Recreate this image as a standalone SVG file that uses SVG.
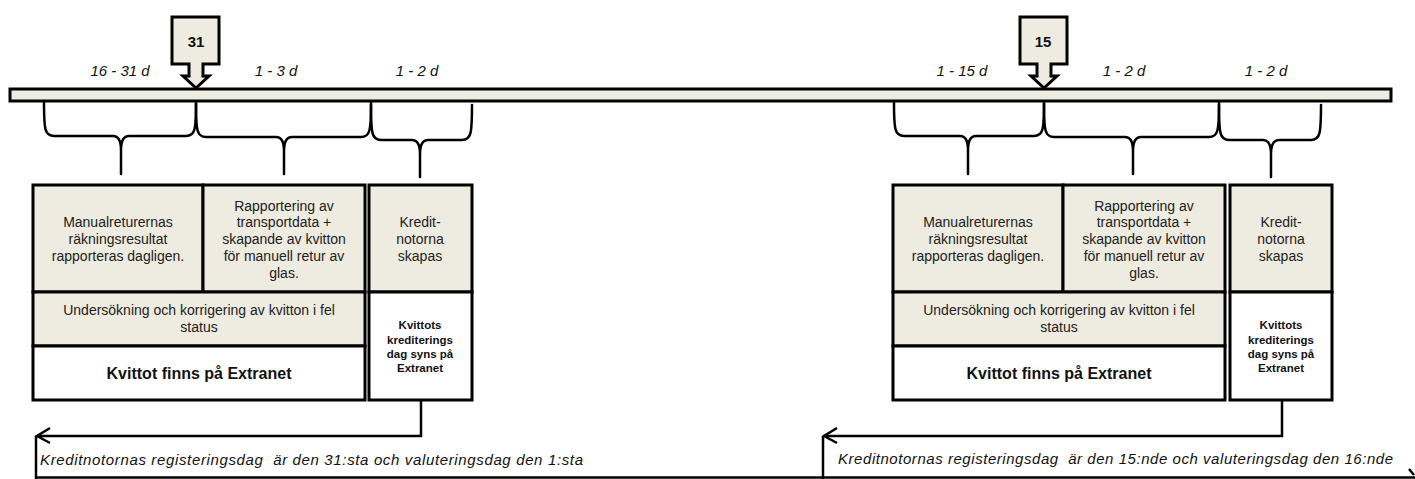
<svg xmlns="http://www.w3.org/2000/svg" width="1415" height="479" viewBox="0 0 1415 479">
<style>
.bg{fill:#ffffff}
.beige{fill:#eeebe0;stroke:#000;stroke-width:3}
.white{fill:#ffffff;stroke:#000;stroke-width:3}
.brace{fill:none;stroke:#000;stroke-width:2.5;stroke-linejoin:round;stroke-linecap:round}
.line{fill:none;stroke:#000;stroke-width:2.5}
.t{font-family:"Liberation Sans",Arial,sans-serif;font-size:14px;fill:#222;text-anchor:middle}
.tb{font-family:"Liberation Sans",Arial,sans-serif;font-weight:bold;fill:#111;text-anchor:middle}
.ti{font-family:"Liberation Sans",Arial,sans-serif;font-style:italic;font-size:15px;fill:#111;text-anchor:middle}
.tl{font-family:"Liberation Sans",Arial,sans-serif;font-style:italic;font-size:15px;fill:#111;white-space:pre}
</style>
<rect class="bg" x="0" y="0" width="1415" height="479"/>

<g id="timeline">
<rect class="beige" x="10" y="89" width="1381" height="12"/>
</g>

<g id="marker31">
<path class="beige" d="M172,17 H219 V64 H203 V76 H209 L196,88 L183,76 H189 V64 H172 Z" stroke-width="2.5"/>
<text class="tb" x="196" y="47" font-size="15">31</text>
</g>
<g id="marker15">
<path class="beige" d="M1020,17 H1067 V64 H1051 V76 H1057 L1044,88 L1031,76 H1037 V64 H1020 Z" stroke-width="2.5"/>
<text class="tb" x="1043" y="47" font-size="15">15</text>
</g>

<g id="durations">
<text class="ti" x="120" y="76">16 - 31 d</text>
<text class="ti" x="276" y="76">1 - 3 d</text>
<text class="ti" x="417" y="76">1 - 2 d</text>
<text class="ti" x="962" y="76">1 - 15 d</text>
<text class="ti" x="1124" y="76">1 - 2 d</text>
<text class="ti" x="1266" y="76">1 - 2 d</text>
</g>

<g id="braces">
<path class="brace" d="M44,103 C44,130 45,136 54,136 L113,136 Q121,136 121,150 L121,174 L121,150 Q121,136 129,136 L186,136 C195,136 196,130 196,103"/>
<path class="brace" d="M196,103 C196,131 197,137 206,137 L276,137 Q284,137 284,151 L284,174 L284,151 Q284,137 292,137 L361,137 C370,137 371,131 371,103"/>
<path class="brace" d="M371,105 C371,134 372,140 381,140 L412,140 Q420,140 420,154 L420,177 L420,154 Q420,140 428,140 L462,140 C471,140 472,134 472,105"/>
<path class="brace" d="M894,103 C894,130 895,136 904,136 L960,136 Q968,136 968,150 L968,174 L968,150 Q968,136 976,136 L1034,136 C1043,136 1044,130 1044,103"/>
<path class="brace" d="M1044,103 C1044,131 1045,137 1054,137 L1125,137 Q1133,137 1133,151 L1133,174 L1133,151 Q1133,137 1141,137 L1209,137 C1218,137 1219,131 1219,103"/>
<path class="brace" d="M1219,105 C1219,134 1220,140 1229,140 L1263,140 Q1271,140 1271,154 L1271,177 L1271,154 Q1271,140 1279,140 L1311,140 C1320,140 1321,134 1321,105"/>
</g>

<g id="left-manual">
<rect class="beige" x="33" y="185" width="170" height="107"/>
<text class="t" x="118" y="227">Manualreturernas</text>
<text class="t" x="118" y="244">räkningsresultat</text>
<text class="t" x="118" y="261">rapporteras dagligen.</text>
</g>
<g id="left-rapport">
<rect class="beige" x="203" y="185" width="162" height="107"/>
<text class="t" x="284" y="211">Rapportering av</text>
<text class="t" x="284" y="227">transportdata +</text>
<text class="t" x="284" y="244">skapande av kvitton</text>
<text class="t" x="284" y="261">för manuell retur av</text>
<text class="t" x="284" y="278">glas.</text>
</g>
<g id="left-kredit">
<rect class="beige" x="369" y="185" width="103" height="107"/>
<text class="t" x="420" y="227">Kredit-</text>
<text class="t" x="420" y="244">notorna</text>
<text class="t" x="420" y="261">skapas</text>
</g>
<g id="left-undersok">
<rect class="beige" x="33" y="292" width="332" height="54"/>
<text class="t" x="199" y="315">Undersökning och korrigering av kvitton i fel</text>
<text class="t" x="199" y="332">status</text>
</g>
<g id="left-kvittot">
<rect class="white" x="33" y="346" width="332" height="54"/>
<text class="tb" x="199" y="379" font-size="16">Kvittot finns på Extranet</text>
</g>
<g id="left-kvittots">
<rect class="white" x="369" y="292" width="103" height="108"/>
<text class="tb" x="420" y="329" font-size="11.5">Kvittots</text>
<text class="tb" x="420" y="344" font-size="11.5">krediterings</text>
<text class="tb" x="420" y="358" font-size="11.5">dag syns på</text>
<text class="tb" x="420" y="372" font-size="11.5">Extranet</text>
</g>

<g id="right-manual">
<rect class="beige" x="893" y="185" width="170" height="107"/>
<text class="t" x="978" y="227">Manualreturernas</text>
<text class="t" x="978" y="244">räkningsresultat</text>
<text class="t" x="978" y="261">rapporteras dagligen.</text>
</g>
<g id="right-rapport">
<rect class="beige" x="1063" y="185" width="162" height="107"/>
<text class="t" x="1144" y="211">Rapportering av</text>
<text class="t" x="1144" y="227">transportdata +</text>
<text class="t" x="1144" y="244">skapande av kvitton</text>
<text class="t" x="1144" y="261">för manuell retur av</text>
<text class="t" x="1144" y="278">glas.</text>
</g>
<g id="right-kredit">
<rect class="beige" x="1230" y="185" width="102" height="107"/>
<text class="t" x="1281" y="227">Kredit-</text>
<text class="t" x="1281" y="244">notorna</text>
<text class="t" x="1281" y="261">skapas</text>
</g>
<g id="right-undersok">
<rect class="beige" x="893" y="292" width="332" height="54"/>
<text class="t" x="1059" y="315">Undersökning och korrigering av kvitton i fel</text>
<text class="t" x="1059" y="332">status</text>
</g>
<g id="right-kvittot">
<rect class="white" x="893" y="346" width="332" height="54"/>
<text class="tb" x="1059" y="379" font-size="16">Kvittot finns på Extranet</text>
</g>
<g id="right-kvittots">
<rect class="white" x="1230" y="292" width="102" height="108"/>
<text class="tb" x="1281" y="329" font-size="11.5">Kvittots</text>
<text class="tb" x="1281" y="344" font-size="11.5">krediterings</text>
<text class="tb" x="1281" y="358" font-size="11.5">dag syns på</text>
<text class="tb" x="1281" y="372" font-size="11.5">Extranet</text>
</g>

<g id="note-left">
<path class="line" d="M36,436 V479"/>
<text class="tl" x="40" y="465" textLength="543" lengthAdjust="spacing">Kreditnotornas registeringsdag  är den 31:sta och valuteringsdag den 1:sta</text>
</g>
<g id="note-right">
<path class="line" d="M823,436 V479"/>
<text class="tl" x="838" y="464" textLength="555" lengthAdjust="spacing">Kreditnotornas registeringsdag  är den 15:nde och valuteringsdag den 16:nde</text>
<path class="line" d="M1409,469 L1414,475"/>
</g>
<path class="line" d="M36,477.5 H1415"/>

<g id="connectors">
<path class="line" d="M421,400 V436 H37"/>
<path class="line" d="M50,428 L37,436 L50,443" stroke-linejoin="miter"/>
<path class="line" d="M1282,400 V436 H824"/>
<path class="line" d="M837,428 L824,436 L837,443" stroke-linejoin="miter"/>
</g>
</svg>
